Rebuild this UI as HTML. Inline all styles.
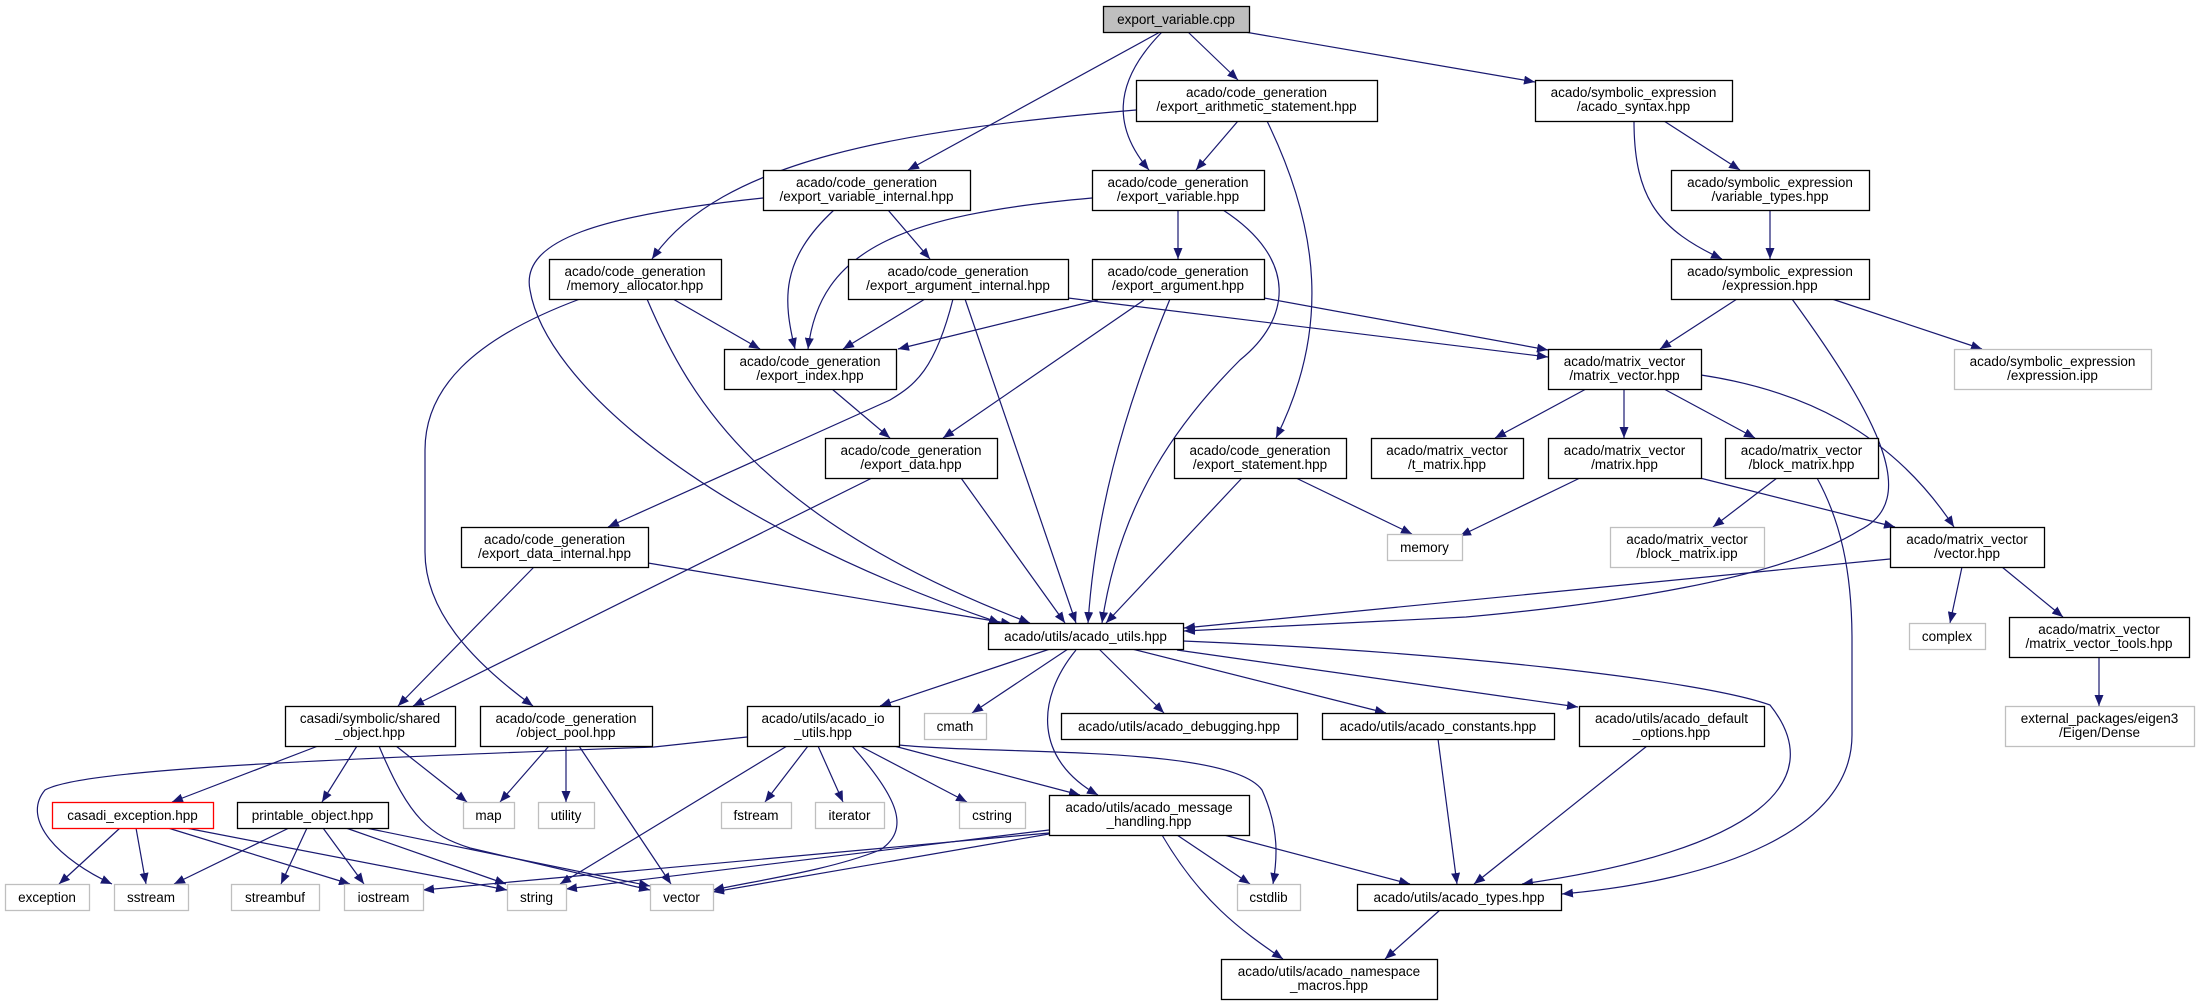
<!DOCTYPE html>
<html><head><meta charset="utf-8"><style>
html,body{margin:0;padding:0;background:#fff;}
svg{display:block;}
text{font-family:"Liberation Sans",sans-serif;font-size:13.5px;fill:#000;}
</style></head><body>
<svg id="g" width="2199" height="1005" xmlns="http://www.w3.org/2000/svg">
<defs><marker id="ah" markerUnits="userSpaceOnUse" markerWidth="12" markerHeight="9" refX="11" refY="4.5" orient="auto"><path d="M0,0 L11,4.5 L0,9 z" fill="#191970"/></marker></defs>
<g id="edges" fill="none" stroke="#191970" stroke-width="1.2"></g>
<g id="nodes"></g>
</svg>
<script>
var N=[
[1103,6,1249,32,["export_variable.cpp"],"c"],
[1136,80,1377,121,["acado/code_generation","/export_arithmetic_statement.hpp"],"n"],
[1535,80,1732,121,["acado/symbolic_expression","/acado_syntax.hpp"],"n"],
[763,170,970,210,["acado/code_generation","/export_variable_internal.hpp"],"n"],
[1092,170,1264,210,["acado/code_generation","/export_variable.hpp"],"n"],
[1671,170,1869,210,["acado/symbolic_expression","/variable_types.hpp"],"n"],
[549,259,721,299,["acado/code_generation","/memory_allocator.hpp"],"n"],
[848,259,1068,299,["acado/code_generation","/export_argument_internal.hpp"],"n"],
[1092,259,1264,299,["acado/code_generation","/export_argument.hpp"],"n"],
[1671,259,1869,299,["acado/symbolic_expression","/expression.hpp"],"n"],
[724,349,896,389,["acado/code_generation","/export_index.hpp"],"n"],
[1548,349,1701,389,["acado/matrix_vector","/matrix_vector.hpp"],"n"],
[1954,349,2151,389,["acado/symbolic_expression","/expression.ipp"],"g"],
[825,438,997,478,["acado/code_generation","/export_data.hpp"],"n"],
[1174,438,1346,478,["acado/code_generation","/export_statement.hpp"],"n"],
[1371,438,1523,478,["acado/matrix_vector","/t_matrix.hpp"],"n"],
[1548,438,1701,478,["acado/matrix_vector","/matrix.hpp"],"n"],
[1725,438,1878,478,["acado/matrix_vector","/block_matrix.hpp"],"n"],
[461,527,648,567,["acado/code_generation","/export_data_internal.hpp"],"n"],
[1387,534,1462,560,["memory"],"g"],
[1610,527,1764,567,["acado/matrix_vector","/block_matrix.ipp"],"g"],
[1890,527,2044,567,["acado/matrix_vector","/vector.hpp"],"n"],
[988,623,1183,649,["acado/utils/acado_utils.hpp"],"n"],
[1909,623,1985,649,["complex"],"g"],
[2009,617,2189,657,["acado/matrix_vector","/matrix_vector_tools.hpp"],"n"],
[285,706,455,746,["casadi/symbolic/shared","_object.hpp"],"n"],
[480,706,652,746,["acado/code_generation","/object_pool.hpp"],"n"],
[747,706,899,746,["acado/utils/acado_io","_utils.hpp"],"n"],
[924,713,986,739,["cmath"],"g"],
[1061,713,1297,739,["acado/utils/acado_debugging.hpp"],"n"],
[1322,713,1554,739,["acado/utils/acado_constants.hpp"],"n"],
[1579,706,1764,746,["acado/utils/acado_default","_options.hpp"],"n"],
[2005,706,2194,746,["external_packages/eigen3","/Eigen/Dense"],"g"],
[52,802,213,828,["casadi_exception.hpp"],"r"],
[237,802,388,828,["printable_object.hpp"],"n"],
[463,802,514,828,["map"],"g"],
[538,802,594,828,["utility"],"g"],
[721,802,791,828,["fstream"],"g"],
[815,802,884,828,["iterator"],"g"],
[959,802,1025,828,["cstring"],"g"],
[1049,795,1249,835,["acado/utils/acado_message","_handling.hpp"],"n"],
[5,884,89,910,["exception"],"g"],
[114,884,188,910,["sstream"],"g"],
[231,884,319,910,["streambuf"],"g"],
[344,884,423,910,["iostream"],"g"],
[507,884,566,910,["string"],"g"],
[650,884,713,910,["vector"],"g"],
[1237,884,1300,910,["cstdlib"],"g"],
[1357,884,1561,910,["acado/utils/acado_types.hpp"],"n"],
[1221,959,1437,999,["acado/utils/acado_namespace","_macros.hpp"],"n"]
];
var E=[
"M1160,32 L908,170","M1162,32 C1110,85 1115,130 1149,170","M1188,32 L1238,80","M1245,32 L1535,82",
"M1136,110 C900,130 720,160 652,259","M1238,121 L1196,170","M1267,121 C1320,230 1330,330 1276,438",
"M1664,121 L1740,170","M1634,121 C1634,200 1660,230 1722,259",
"M763,198 C600,215 520,240 530,290 C545,380 700,520 1000,623","M834,210 C780,260 783,300 795,349","M888,210 L930,259",
"M1092,198 C900,215 820,250 808,349","M1178,210 L1178,259","M1223,210 C1300,260 1290,320 1240,360 C1180,420 1120,500 1102,623",
"M1770,210 L1770,259",
"M673,299 L760,349","M647,299 C690,400 760,520 1030,623","M580,299 C470,340 425,390 425,450 L425,552 C425,610 470,660 533,706",
"M925,299 L843,349","M953,299 C935,370 915,385 890,400 L608,527","M965,299 L1076,623","M1068,298 L1548,357",
"M1098,300 L898,349","M1144,300 L943,438","M1170,299 C1120,420 1095,520 1088,623","M1264,298 L1548,350",
"M1737,299 L1660,349","M1792,299 C1880,420 1920,500 1860,530 C1780,580 1600,605 1466,617 L1184,631","M1832,299 L1982,349",
"M832,389 L890,438",
"M1586,389 L1495,438","M1624,389 L1624,438","M1664,389 L1755,438","M1701,375 C1800,390 1890,430 1954,527",
"M961,478 L1065,623","M872,478 L413,706",
"M1296,478 L1412,534","M1242,478 L1106,623",
"M1580,478 L1460,536","M1700,478 L1895,527",
"M1777,478 L1713,527","M1817,478 C1840,520 1852,570 1852,640 L1852,735 C1852,830 1720,880 1562,894",
"M534,567 L398,706","M648,563 L1012,624",
"M1890,559 L1184,628","M1962,567 L1950,623","M2002,567 L2063,617",
"M2099,657 L2099,706",
"M1050,649 L880,706","M1068,649 L972,713","M1099,649 L1164,713","M1132,649 L1386,713","M1177,650 L1578,707",
"M1076,650 C1035,700 1035,760 1098,795",
"M1183,641 C1450,652 1700,680 1770,705 C1830,780 1760,850 1522,884",
"M318,746 L172,802","M357,746 L322,802","M396,746 L467,802","M379,746 C410,820 430,835 470,848 L650,890",
"M549,746 L500,802","M566,746 L566,802","M579,746 L671,884",
"M808,746 L765,802","M818,746 L843,802","M860,746 L967,802","M894,746 L1080,795",
"M899,745 C1000,755 1230,745 1262,790 C1280,830 1277,860 1273,884",
"M747,737 L654,747 C300,760 80,770 45,790 C20,820 60,860 112,884",
"M787,746 L560,884",
"M852,746 C900,800 910,830 880,850 C830,870 760,880 713,890",
"M1438,739 L1457,884","M1647,746 L1474,884",
"M120,828 L59,884","M136,828 L146,884","M168,828 L350,884","M186,828 L507,890",
"M289,828 L174,884","M307,828 L281,884","M323,828 L364,884","M346,828 L506,884","M366,828 L650,886",
"M1049,833 L423,890","M1049,830 L566,889","M1049,834 L713,892",
"M1177,835 L1250,884","M1224,835 L1410,884","M1162,835 C1200,900 1240,930 1283,959",
"M1440,910 L1385,959"
];
var ns="http://www.w3.org/2000/svg",ge=document.getElementById("edges"),gn=document.getElementById("nodes");
E.forEach(function(d){var p=document.createElementNS(ns,"path");p.setAttribute("d",d);p.setAttribute("marker-end","url(#ah)");ge.appendChild(p);});
N.forEach(function(n){
 var r=document.createElementNS(ns,"rect");
 r.setAttribute("x",n[0]+0.5);r.setAttribute("y",n[1]+0.5);r.setAttribute("width",n[2]-n[0]);r.setAttribute("height",n[3]-n[1]);
 var st={n:["#fff","#000"],g:["#fff","#bfbfbf"],r:["#fff","#ff0000"],c:["#bfbfbf","#000"]}[n[5]];
 r.setAttribute("fill",st[0]);r.setAttribute("stroke",st[1]);r.setAttribute("stroke-width","1.3");gn.appendChild(r);
 var cx=(n[0]+n[2])/2;
 n[4].forEach(function(s,i){var t=document.createElementNS(ns,"text");t.setAttribute("x",cx);t.setAttribute("text-anchor","middle");
  var y=n[4].length==1?(n[1]+n[3])/2+5:n[1]+17+i*14;t.setAttribute("y",y);t.textContent=s;gn.appendChild(t);});
});
</script>
</body></html>
